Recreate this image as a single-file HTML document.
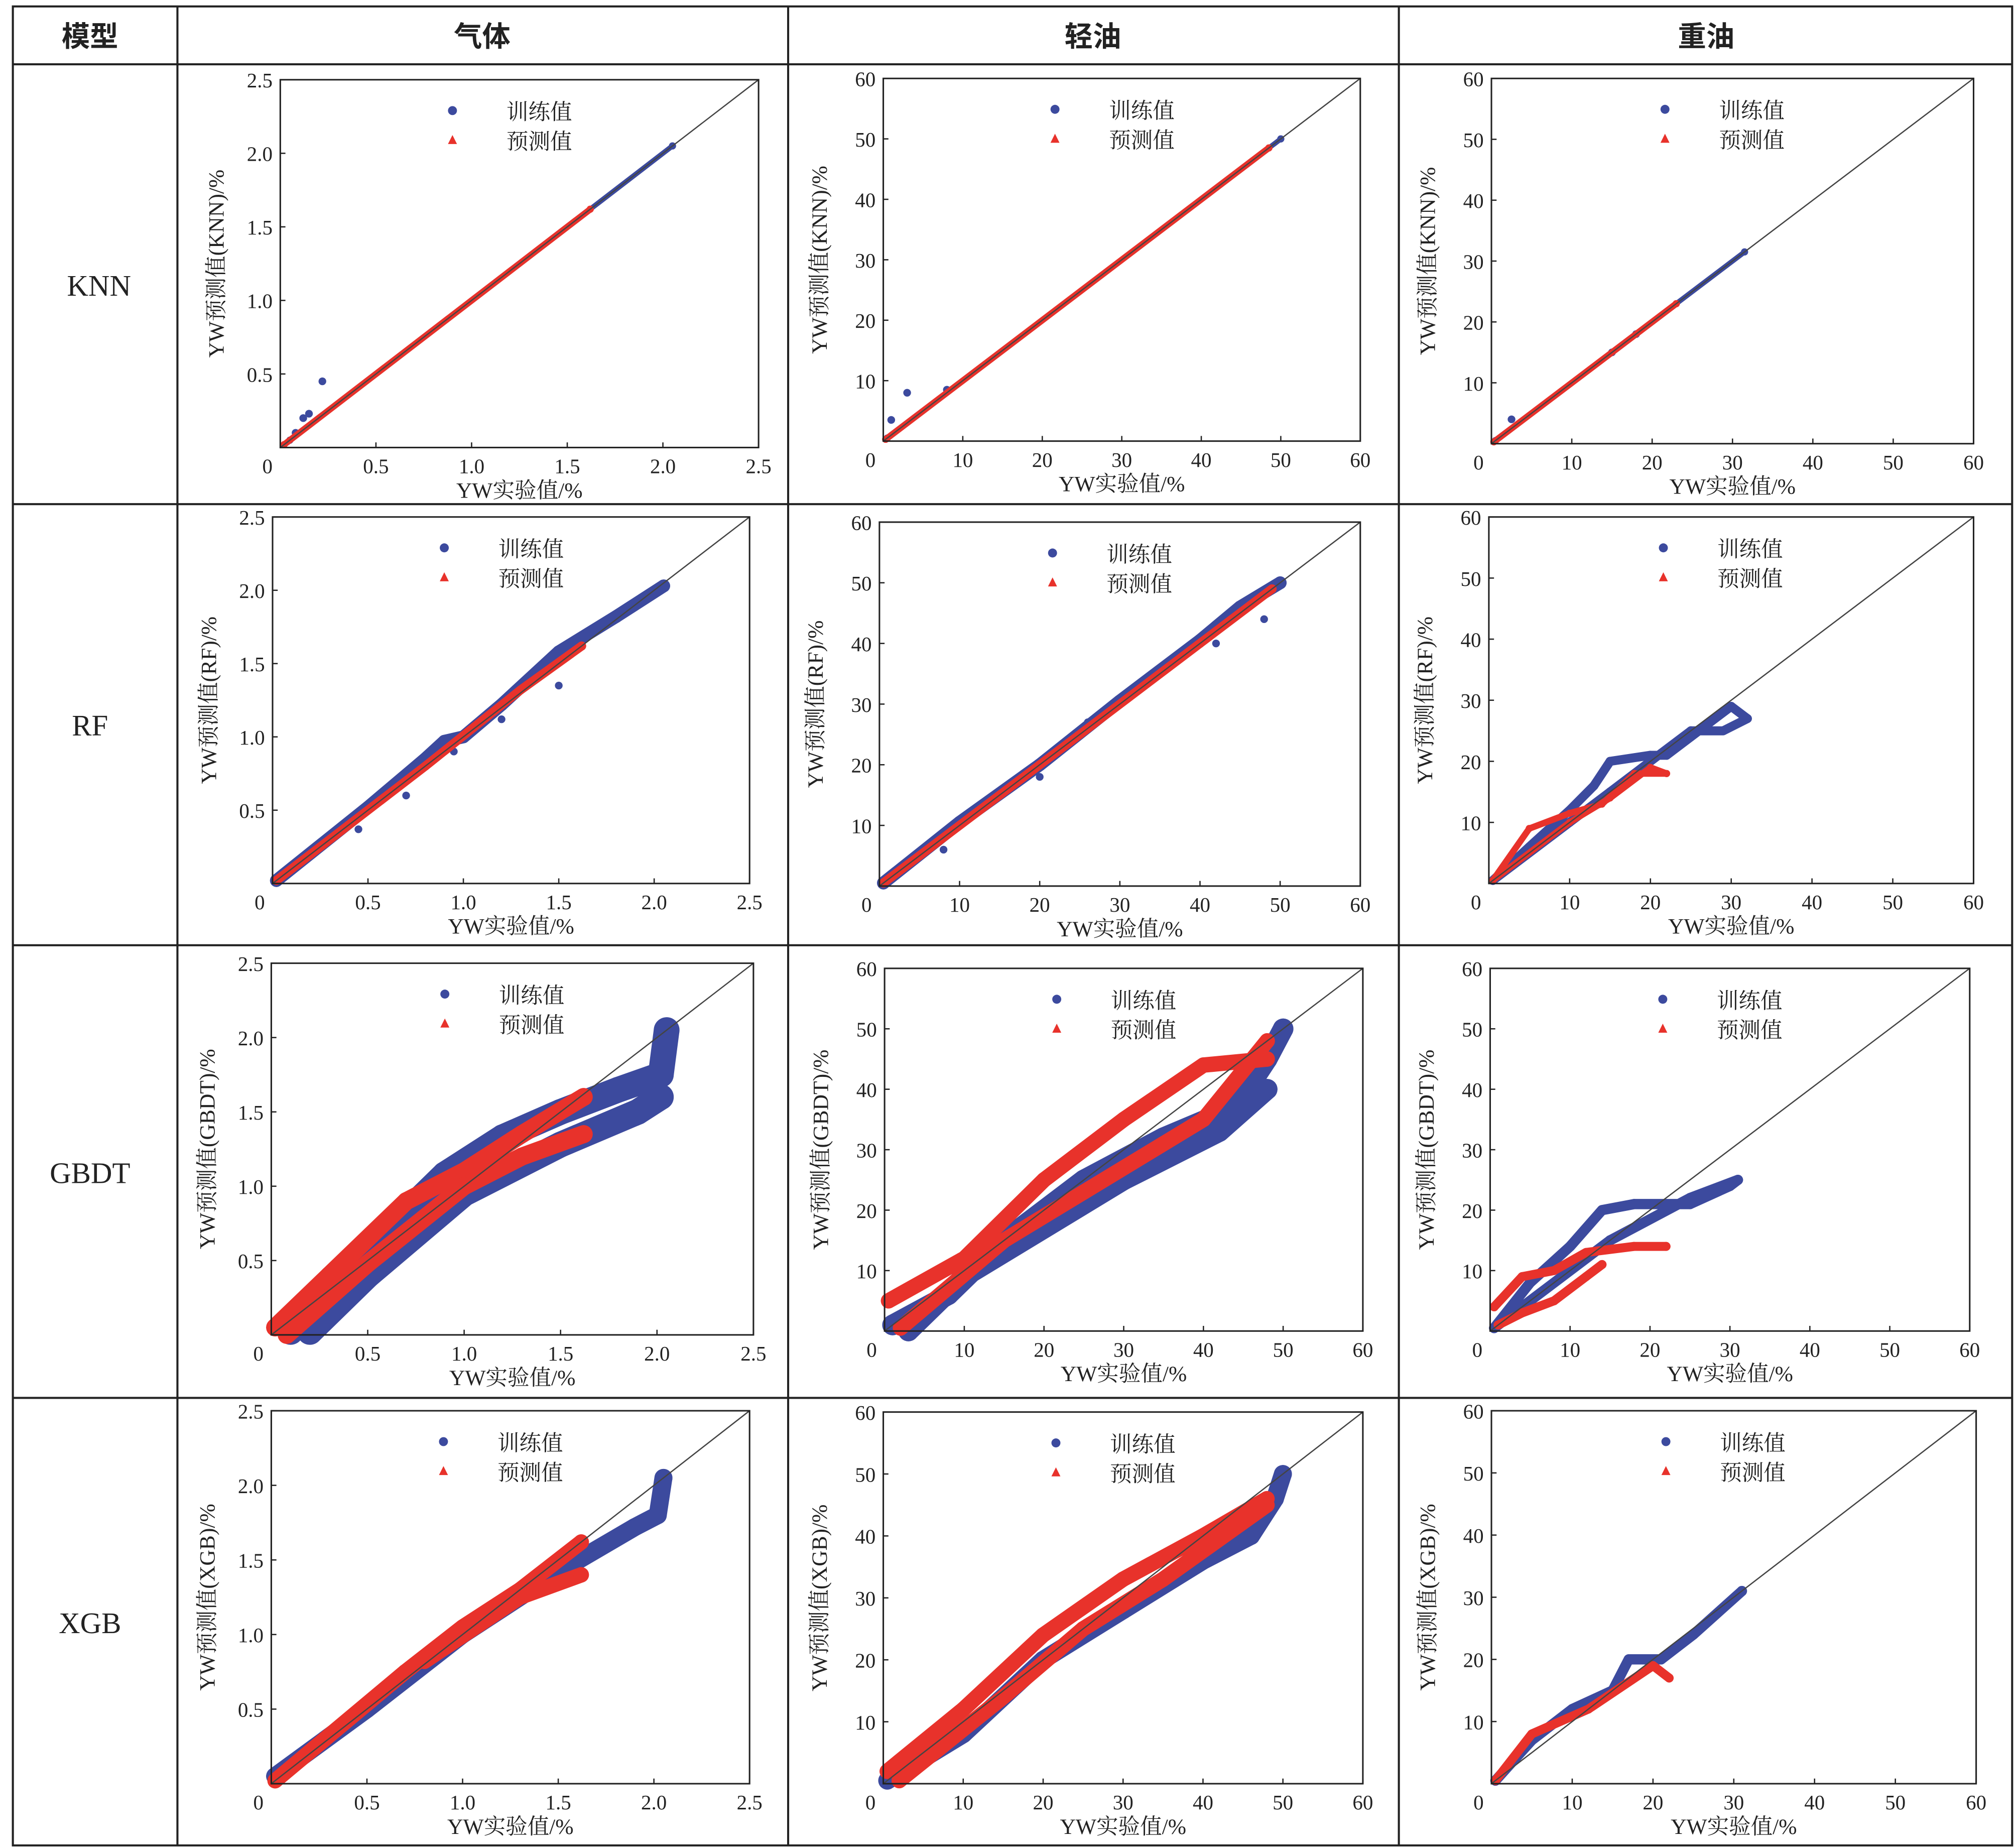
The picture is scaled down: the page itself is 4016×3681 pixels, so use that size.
<!DOCTYPE html>
<html><head><meta charset="utf-8">
<style>
html,body{margin:0;padding:0;background:#fff}
svg{display:block}
text{font-family:"Liberation Serif","Noto Serif CJK SC","Noto Sans CJK SC",serif;fill:#222}
</style></head>
<body>
<svg id="fig" width="4016" height="3681" viewBox="0 0 1568 1437" preserveAspectRatio="none" xmlns="http://www.w3.org/2000/svg">
<g stroke="#222" stroke-width="1.6" fill="none">
<rect x="10" y="5" width="1555" height="1430"/>
<line x1="10" y1="50" x2="1565" y2="50"/>
<line x1="10" y1="392" x2="1565" y2="392"/>
<line x1="10" y1="735" x2="1565" y2="735"/>
<line x1="10" y1="1087" x2="1565" y2="1087"/>
<line x1="138" y1="5" x2="138" y2="1435"/>
<line x1="613" y1="5" x2="613" y2="1435"/>
<line x1="1088" y1="5" x2="1088" y2="1435"/>
</g>
<g font-size="22" font-weight="bold" text-anchor="middle">
<text x="70" y="36" style="font-family:'Noto Sans CJK SC',sans-serif">模型</text>
<text x="375" y="36" style="font-family:'Noto Sans CJK SC',sans-serif">气体</text>
<text x="850" y="36" style="font-family:'Noto Sans CJK SC',sans-serif">轻油</text>
<text x="1327" y="36" style="font-family:'Noto Sans CJK SC',sans-serif">重油</text>
</g>
<g font-size="23" text-anchor="middle">
<text x="77" y="230">KNN</text>
<text x="70" y="572">RF</text>
<text x="70" y="920">GBDT</text>
<text x="70" y="1270">XGB</text>
</g>
<g id="panels"></g>
</svg>
<script>
// ---- data (value units) ----
const gasTicks = [0.5, 1.0, 1.5, 2.0, 2.5];
const gasTickLabels = ["0.5", "1.0", "1.5", "2.0", "2.5"];
const oilTicks = [10, 20, 30, 40, 50, 60];
const oilTickLabels = ["10", "20", "30", "40", "50", "60"];

const knnGasTrain = [[0.05,0.05],[2.05,2.05]];
const knnGasTrainOut = [[0.08,0.1],[0.12,0.2],[0.15,0.23],[0.22,0.45]];
const knnGasPred = [[0.02,0.02],[1.62,1.62]];
const knnLightTrain = [[0.5,0.5],[50,50]];
const knnLightTrainOut = [[1,3.5],[3,8],[8,8.5]];
const knnLightPred = [[0.3,0.3],[48.5,48.5]];
const knnHeavyTrain = [[0.5,0.5],[31.5,31.5]];
const knnHeavyTrainOut = [[2.5,4],[15,15],[18,18]];
const knnHeavyPred = [[0.3,0.3],[23,23]];

const rfGasTrain = [[0.02,0.02],[0.5,0.52],[0.8,0.85],[0.9,0.97],[1.0,1.0],[1.2,1.22],[1.5,1.58],[1.8,1.82],[2.05,2.03]];
const rfGasTrainOut = [[0.45,0.37],[0.7,0.6],[1.2,1.12],[1.5,1.35],[0.95,0.9]];
const rfGasPred = [[0.02,0.02],[0.8,0.8],[1.3,1.32],[1.62,1.62]];
const rfLightTrain = [[0.5,0.5],[10,10.5],[20,20],[30,30.5],[40,40.5],[45,46],[50,50]];
const rfLightTrainOut = [[8,6],[20,18],[26,27],[42,40],[48,44]];
const rfLightPred = [[0.5,0.5],[20,20],[40,40],[49,49]];
const rfHeavyTrain = [[0.5,0.5],[5,6],[10,12],[13,16],[15,20],[20,21],[22,21],[25,24],[30,29],[32,27],[29,25],[25,25],[20,20],[15,15],[10,10],[0.5,0.5]];
const rfHeavyPred = [[0.5,0.5],[5,9],[10,11.5],[14,13],[18,18],[22,18],[20,19],[15,14],[10,10],[0.5,0.5]];

const gbdtGasTrain = [[0.1,0.02],[0.3,0.3],[0.6,0.7],[0.9,1.08],[1.2,1.33],[1.5,1.5],[1.8,1.65],[2.02,1.75],[2.05,2.05]];
const gbdtGasTrain2 = [[0.2,0.02],[0.5,0.4],[1.0,0.95],[1.5,1.28],[1.9,1.5],[2.02,1.6]];
const gbdtGasPred = [[0.02,0.05],[0.3,0.4],[0.7,0.9],[1.0,1.1],[1.3,1.35],[1.62,1.6]];
const gbdtGasPred2 = [[0.08,0.0],[0.5,0.48],[1.0,1.0],[1.3,1.2],[1.62,1.35]];
const gbdtLightTrain = [[1,1],[8,6],[15,15],[25,25],[35,32],[44,37],[48,45],[50,50]];
const gbdtLightTrain2 = [[3,0],[10,9],[20,17],[30,25],[42,33],[48,40]];
const gbdtLightPred = [[0.5,5],[10,12],[20,25],[30,35],[40,44],[48,45]];
const gbdtLightPred2 = [[2,0.5],[15,15],[25,23],[40,35],[48,48]];
const gbdtHeavyTrain = [[0.5,0.5],[5,8],[10,14],[14,20],[18,21],[25,21],[30,24],[31,25],[25,22],[15,15],[5,5],[0.5,0.5]];
const gbdtHeavyPred = [[0.5,4],[4,9],[8,10],[12,13],[18,14],[22,14]];
const gbdtHeavyPred2 = [[1,1],[4,3],[8,5],[12,9],[14,11]];

const xgbGasTrain = [[0.02,0.05],[0.5,0.5],[1.0,1.0],[1.5,1.42],[1.9,1.72],[2.02,1.8],[2.05,2.05]];
const xgbGasPred = [[0.02,0.02],[0.7,0.75],[1.0,1.05],[1.3,1.3],[1.62,1.62]];
const xgbGasPred2 = [[0.8,0.82],[1.3,1.25],[1.62,1.4]];
const xgbLightTrain = [[0.5,0.5],[10,8],[20,20],[30,28],[40,36],[46,40],[49,46],[50,50]];
const xgbLightPred = [[0.5,2],[10,12],[20,24],[30,33],[40,40],[48,46]];
const xgbLightPred2 = [[2,0.5],[15,14],[25,25],[35,33],[48,45]];
const xgbHeavyTrain = [[0.5,0.5],[5,7],[10,12],[15,15],[17,20],[21,20],[25,24],[31,31]];
const xgbHeavyPred = [[0.5,0.5],[5,8],[12,12],[20,19],[22,17]];

// ---- layout ----
const panels = [
 {id:'knn-gas', x0:218,x1:590,y0:62,y1:348, max:2.5, gas:true, model:'KNN', train:[knnGasTrain], pred:[knnGasPred], out:knnGasTrainOut, tw:4, pw:5},
 {id:'knn-light', x0:687,x1:1058,y0:61,y1:343, max:60, gas:false, model:'KNN', train:[knnLightTrain], pred:[knnLightPred], out:knnLightTrainOut, tw:4, pw:5},
 {id:'knn-heavy', x0:1160,x1:1535,y0:61,y1:345, max:60, gas:false, model:'KNN', train:[knnHeavyTrain], pred:[knnHeavyPred], out:knnHeavyTrainOut, tw:4, pw:5},
 {id:'rf-gas', x0:212,x1:583,y0:402,y1:687, max:2.5, gas:true, model:'RF', train:[rfGasTrain], pred:[rfGasPred], out:rfGasTrainOut, tw:10, pw:7},
 {id:'rf-light', x0:684,x1:1058,y0:406,y1:689, max:60, gas:false, model:'RF', train:[rfLightTrain], pred:[rfLightPred], out:rfLightTrainOut, tw:10, pw:7},
 {id:'rf-heavy', x0:1158,x1:1535,y0:402,y1:687, max:60, gas:false, model:'RF', train:[rfHeavyTrain], pred:[rfHeavyPred], out:[], tw:7, pw:5},
 {id:'gbdt-gas', x0:211,x1:586,y0:749,y1:1038, max:2.5, gas:true, model:'GBDT', train:[gbdtGasTrain,gbdtGasTrain2], pred:[gbdtGasPred,gbdtGasPred2], out:[], tw:20, pw:14},
 {id:'gbdt-light', x0:688,x1:1060,y0:753,y1:1035, max:60, gas:false, model:'GBDT', train:[gbdtLightTrain,gbdtLightTrain2], pred:[gbdtLightPred,gbdtLightPred2], out:[], tw:16, pw:12},
 {id:'gbdt-heavy', x0:1159,x1:1532,y0:753,y1:1035, max:60, gas:false, model:'GBDT', train:[gbdtHeavyTrain], pred:[gbdtHeavyPred,gbdtHeavyPred2], out:[], tw:8, pw:7},
 {id:'xgb-gas', x0:211,x1:583,y0:1097,y1:1387, max:2.5, gas:true, model:'XGB', train:[xgbGasTrain], pred:[xgbGasPred,xgbGasPred2], out:[], tw:14, pw:12},
 {id:'xgb-light', x0:687,x1:1060,y0:1098,y1:1387, max:60, gas:false, model:'XGB', train:[xgbLightTrain], pred:[xgbLightPred,xgbLightPred2], out:[], tw:14, pw:12},
 {id:'xgb-heavy', x0:1160,x1:1537,y0:1097,y1:1387, max:60, gas:false, model:'XGB', train:[xgbHeavyTrain], pred:[xgbHeavyPred], out:[], tw:8, pw:7}
];
const NS = 'http://www.w3.org/2000/svg';
const BLUE = '#3c4a9e', RED = '#e8322b';
function mk(tag, attrs, parent){ const e=document.createElementNS(NS,tag); for(const k in attrs) e.setAttribute(k,attrs[k]); parent.appendChild(e); return e; }
const root = document.getElementById('panels');
panels.forEach(p=>{
  const g = mk('g',{},root);
  
  
  const sx = v => p.x0 + v/p.max*(p.x1-p.x0);
  const sy = v => p.y1 - v/p.max*(p.y1-p.y0);
  const pts = arr => arr.map(d=>sx(d[0]).toFixed(1)+','+sy(d[1]).toFixed(1)).join(' ');
  // series
  const drawSeries = (arr, color, w, name)=>{
    const pl = mk('polyline',{points:pts(arr),fill:'none',stroke:color,'stroke-width':w,'stroke-linejoin':'round','stroke-linecap':'round'},g);
    
    
    arr.forEach(d=>{ const c=mk('circle',{cx:sx(d[0]),cy:sy(d[1]),r:Math.max(2.8,w/2),fill:color},g);
      
       });
  };
  p.train.forEach((a,i)=>drawSeries(a,BLUE,p.tw,'train-series-'+i));
  p.out.forEach(d=>{ const c=mk('circle',{cx:sx(d[0]),cy:sy(d[1]),r:3,fill:BLUE},g);
    
     });
  p.pred.forEach((a,i)=>drawSeries(a,RED,p.pw,'pred-series-'+i));
  // diagonal
  const dg = mk('line',{x1:sx(0),y1:sy(0),x2:sx(p.max),y2:sy(p.max),stroke:'#444','stroke-width':1},g);
  
  
  // frame
  const fr = mk('rect',{x:p.x0,y:p.y0,width:p.x1-p.x0,height:p.y1-p.y0,fill:'none',stroke:'#222','stroke-width':1.2},g);
  
  
  // ticks
  const ticks = p.gas?gasTicks:oilTicks, labs = p.gas?gasTickLabels:oilTickLabels;
  ticks.forEach((t,i)=>{
    const tx = mk('text',{x:sx(t),y:p.y1+20,'font-size':16,'text-anchor':'middle'},g);
    tx.textContent = labs[i];
    
    
    const ty = mk('text',{x:p.x0-6,y:sy(t)+6,'font-size':16,'text-anchor':'end'},g);
    ty.textContent = labs[i];
    
    
    mk('line',{x1:sx(t),y1:p.y1,x2:sx(t),y2:p.y1-4,stroke:'#222','stroke-width':1},g);
    mk('line',{x1:p.x0,y1:sy(t),x2:p.x0+4,y2:sy(t),stroke:'#222','stroke-width':1},g);
  });
  const z = mk('text',{x:p.x0-10,y:p.y1+20,'font-size':16,'text-anchor':'middle'},g);
  z.textContent='0';
  
  
  // axis labels
  const xl = mk('text',{x:(p.x0+p.x1)/2,y:p.y1+39,'font-size':17,'text-anchor':'middle'},g);
  xl.textContent='YW实验值/%';
  
  
  const yx = p.x0-44, yy=(p.y0+p.y1)/2;
  const yl = mk('text',{x:yx,y:yy,'font-size':17,'text-anchor':'middle',transform:'rotate(-90 '+yx+' '+yy+')'},g);
  yl.textContent='YW预测值('+p.model+')/%';
  
  
  // legend
  const lx = p.x0 + 0.36*(p.x1-p.x0), ly = p.y0+25;
  const lc = mk('circle',{cx:lx,cy:ly-1,r:3.5,fill:BLUE},g);
  
  
  const lt = mk('text',{x:lx+42,y:ly+6,'font-size':17},g);
  lt.textContent='训练值';
  
  
  const lp = mk('polygon',{points:(lx-3.5)+','+(ly+25)+' '+(lx+3.5)+','+(ly+25)+' '+lx+','+(ly+18),fill:RED},g);
  
  
  const lpt = mk('text',{x:lx+42,y:ly+29,'font-size':17},g);
  lpt.textContent='预测值';
  
  
});
</script>
</body></html>
